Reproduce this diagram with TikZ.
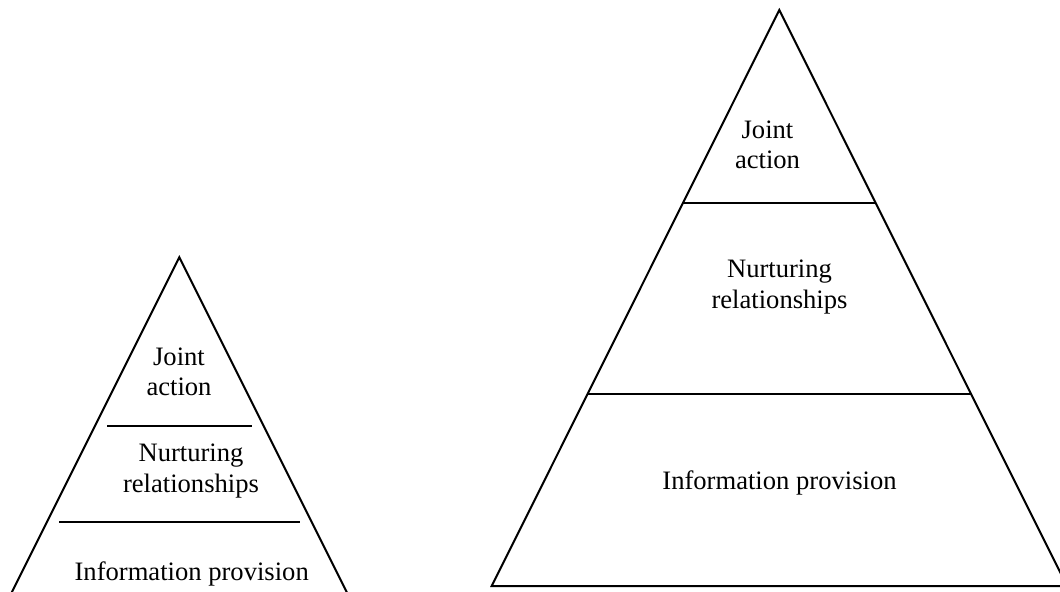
\documentclass[tikz,border=0pt]{standalone}
\usepackage{fontspec}
\setmainfont{Liberation Serif}
\usetikzlibrary{positioning}
\tikzset{pyramid/.style={line width=1pt,line join=miter},tier/.style={line width=1pt},tiertext/.style={align=center,inner sep=0pt,font=\fontsize{13.3}{15.2}\selectfont}}

\begin{document}
\begin{tikzpicture}[x=.5pt,y=-.5pt]
  \useasboundingbox (0,0) rectangle (1060,591);
  \clip (0,0) rectangle (1060,591);
  % small pyramid, its base below the page
  \draw[pyramid](-10.7,637.3)--(179.3,257.3)--(369.3,637.3);
  \draw[tier](107,425.7)--(252,425.7);
  \draw[tier](59,522.3)--(300,522.3);
  \node[tiertext](sJoint) at (179,372){Joint\\action};
  \node[tiertext](sNurture) at (191,471){Nurturing\\relationships};
  \node[tiertext](sInfo) at (191.7,574){Information provision};
  % large pyramid
  \draw[pyramid](491.7,586)--(779.3,10)--(1067,586)--cycle;
  \draw[tier](683.1,202.7)--(875.5,202.7);
  \draw[tier](587.4,394.3)--(971.2,394.3);
  \node[tiertext](bJoint) at (767.5,145){Joint\\action};
  \node[tiertext](bNurture) at (779.5,287){Nurturing\\relationships};
  \node[tiertext](bInfo) at (779.5,483){Information provision};
\end{tikzpicture}
\end{document}
